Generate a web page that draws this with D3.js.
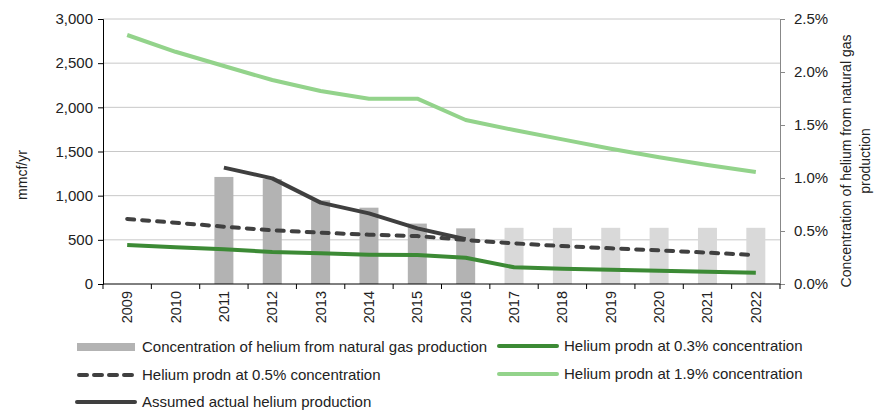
<!DOCTYPE html>
<html>
<head>
<meta charset="utf-8">
<script src="https://cdn.jsdelivr.net/npm/d3@7"></script>
<style>
  body { margin: 0; background: #fff; }
  text { font-family: "Liberation Sans", Arial, sans-serif; fill: #222; }
</style>
</head>
<body>
<div id="chart"></div>
<script>
// Data
const years = ["2009","2010","2011","2012","2013","2014","2015","2016","2017","2018","2019","2020","2021","2022"];
// concentration (%), right axis; first six are historic, rest assumed
const concentration = [null, null, 1.01, 0.99, 0.79, 0.72, 0.57, 0.525, 0.53, 0.53, 0.53, 0.53, 0.53, 0.53];
const historicYears = 8; // 2009..2016 shown in darker gray
const prodn03 = [441, 415, 393, 362, 347, 332, 328, 298, 189, 173, 162, 151, 140, 128];
const prodn05 = [736, 694, 649, 608, 581, 558, 543, 498, 460, 430, 404, 381, 355, 328];
const prodn19 = [2819, 2629, 2468, 2309, 2185, 2098, 2098, 1857, 1743, 1637, 1532, 1434, 1347, 1268];
const actual = [null, null, 1317, 1196, 921, 800, 630, 506, null, null, null, null, null, null];
const leftTicks = [0, 500, 1000, 1500, 2000, 2500, 3000];
const rightTicks = [0, 0.5, 1.0, 1.5, 2.0, 2.5];

const W = 875, H = 410;
const margin = {top: 19, right: 95, bottom: 126, left: 103};
const width = W - margin.left - margin.right,
      height = H - margin.top - margin.bottom;

const svg = d3.select("#chart").append("svg")
    .attr("width", W).attr("height", H);
const g = svg.append("g")
    .attr("transform", `translate(${margin.left},${margin.top})`);

const x = d3.scaleBand().domain(years).range([0, width]);
const y = d3.scaleLinear().domain([0, 3000]).range([height, 0]);
const y2 = d3.scaleLinear().domain([0, 2.5]).range([height, 0]);

// gridlines
g.append("g")
  .selectAll("line")
  .data(leftTicks.slice(1))
  .join("line")
    .attr("x1", 0).attr("x2", width)
    .attr("y1", d => y(d)).attr("y2", d => y(d))
    .attr("stroke", "#c8c8c8").attr("stroke-width", 1);

// bars (right axis)
const barW = 19;
g.append("g")
  .selectAll("rect")
  .data(years.map((yr, i) => ({yr, v: concentration[i], i})).filter(d => d.v != null))
  .join("rect")
    .attr("x", d => x(d.yr) + x.bandwidth() / 2 - barW / 2)
    .attr("width", barW)
    .attr("y", d => y2(d.v))
    .attr("height", d => height - y2(d.v))
    .attr("fill", d => d.i < historicYears ? "#b3b3b3" : "#d9d9d9");

const cx = yr => x(yr) + x.bandwidth() / 2;
const line = d3.line()
    .defined(d => d.v != null)
    .x(d => cx(d.yr))
    .y(d => y(d.v));
const toPts = arr => years.map((yr, i) => ({yr, v: arr[i]}));

const series = [
  {data: prodn19, color: "#93d38b", dash: null},
  {data: prodn03, color: "#3c8a35", dash: null},
  {data: prodn05, color: "#404040", dash: "7,8"},
  {data: actual, color: "#3f3f3f", dash: null}
];
series.forEach(s => {
  g.append("path")
    .datum(toPts(s.data))
    .attr("d", line)
    .attr("fill", "none")
    .attr("stroke", s.color)
    .attr("stroke-width", 4)
    .attr("stroke-linecap", s.dash ? "round" : "butt")
    .attr("stroke-linejoin", "round")
    .attr("stroke-dasharray", s.dash);
});

// left axis
const yAxis = g.append("g")
  .call(d3.axisLeft(y).tickValues(leftTicks).tickFormat(d3.format(",")).tickSize(5).tickPadding(5));
yAxis.select(".domain").attr("stroke", "#000");
yAxis.selectAll(".tick line").attr("stroke", "#000");
yAxis.selectAll("text").style("font-size", "15px");

// right axis
const y2Axis = g.append("g")
  .attr("transform", `translate(${width},0)`)
  .call(d3.axisRight(y2).tickValues(rightTicks).tickFormat(d => d.toFixed(1) + "%").tickSize(5).tickPadding(9));
y2Axis.select(".domain").attr("stroke", "#888");
y2Axis.selectAll(".tick line").attr("stroke", "#888");
y2Axis.selectAll("text").style("font-size", "15px");

// bottom axis: ticks at category boundaries
const xAxisG = g.append("g").attr("transform", `translate(0,${height})`);
xAxisG.append("line").attr("x1", 0).attr("x2", width).attr("stroke", "#000");
xAxisG.selectAll("line.tk")
  .data(years.concat(["end"]))
  .join("line")
    .attr("class", "tk")
    .attr("x1", (d, i) => i * x.step()).attr("x2", (d, i) => i * x.step())
    .attr("y1", 0).attr("y2", 5)
    .attr("stroke", "#000");
xAxisG.selectAll("text")
  .data(years)
  .join("text")
    .attr("transform", d => `translate(${cx(d) + 5},7) rotate(-90)`)
    .attr("text-anchor", "end")
    .style("font-size", "14.5px")
    .text(d => d);

// axis titles
svg.append("text")
  .attr("transform", `translate(27,175) rotate(-90)`)
  .attr("text-anchor", "middle")
  .style("font-size", "14px")
  .text("mmcf/yr");
const rt = svg.append("text")
  .attr("transform", `translate(851,161) rotate(-90)`)
  .attr("text-anchor", "middle")
  .style("font-size", "14px");
rt.append("tspan").attr("x", 0).attr("dy", 0).text("Concentration of helium from natural gas");
rt.append("tspan").attr("x", 0).attr("dy", 19).text("production");

// legend
const legend = [
  {label: "Concentration of helium from natural gas production", type: "bar", color: "#b3b3b3", x: 77, y: 347},
  {label: "Helium prodn at 0.3% concentration", type: "line", color: "#3c8a35", x: 499, y: 346},
  {label: "Helium prodn at 0.5% concentration", type: "dash", color: "#404040", x: 77, y: 375},
  {label: "Helium prodn at 1.9% concentration", type: "line", color: "#93d38b", x: 499, y: 374},
  {label: "Assumed actual helium production", type: "line", color: "#3f3f3f", x: 77, y: 402}
];
const lg = svg.append("g");
legend.forEach(d => {
  if (d.type === "bar") {
    lg.append("rect").attr("x", d.x).attr("y", d.y - 4).attr("width", 58).attr("height", 8).attr("fill", d.color);
  } else {
    lg.append("line")
      .attr("x1", d.x + (d.type === "dash" ? 2 : 0)).attr("x2", d.x + 58)
      .attr("y1", d.y).attr("y2", d.y)
      .attr("stroke", d.color).attr("stroke-width", 4)
      .attr("stroke-linecap", "round")
      .attr("stroke-dasharray", d.type === "dash" ? "8,7" : null);
  }
  lg.append("text")
    .attr("x", d.x + 65).attr("y", d.y)
    .attr("dy", "0.35em")
    .style("font-size", "15px")
    .text(d.label);
});
</script>
</body>
</html>
